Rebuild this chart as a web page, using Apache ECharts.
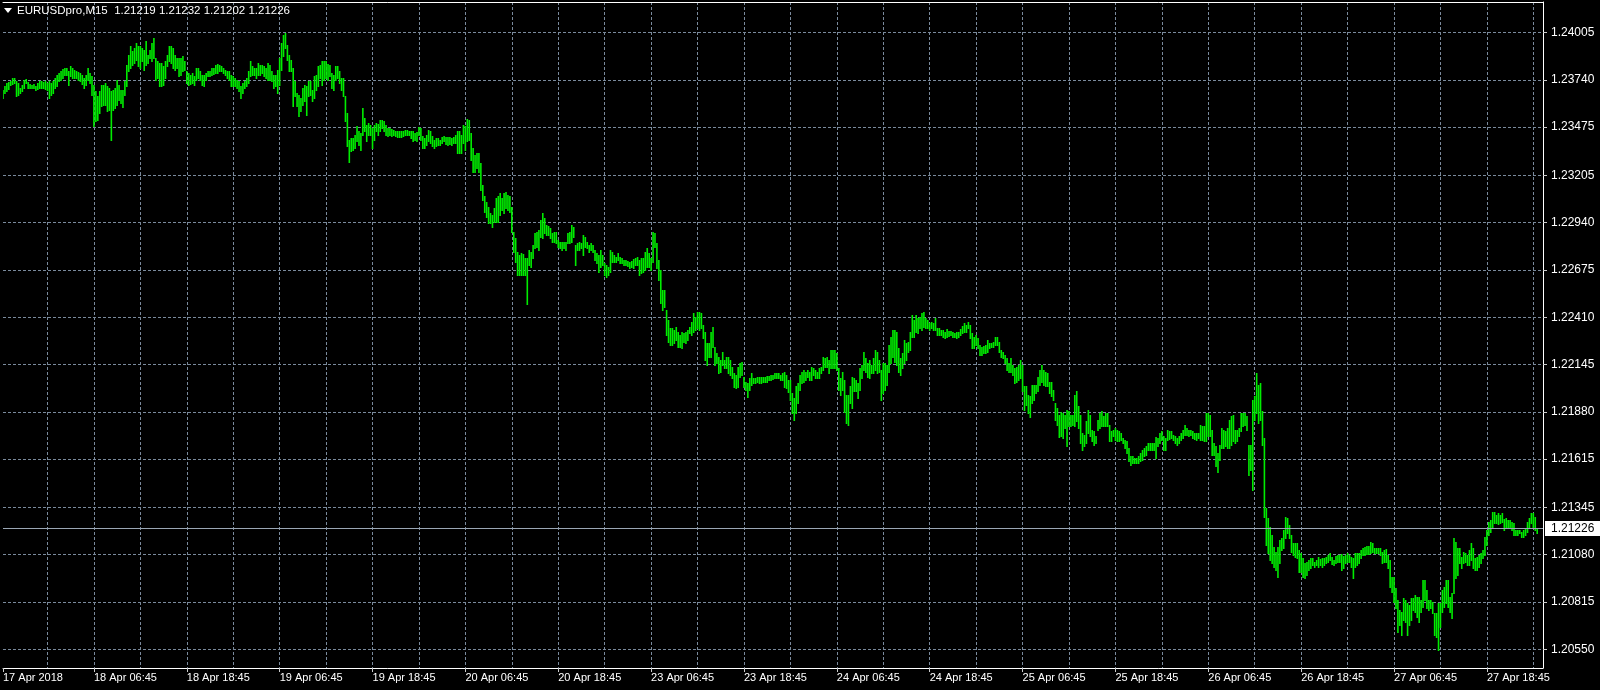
<!DOCTYPE html>
<html><head><meta charset="utf-8">
<script src="https://cdn.jsdelivr.net/npm/echarts@6/dist/echarts.min.js"></script>
<style>html,body{margin:0;padding:0;background:#000;}#c{width:1600px;height:690px;}</style>
</head><body><div id="c"></div>
<script>
const symbolName = 'EURUSDpro,M15';
const lastBar = {open: 1.21219, high: 1.21232, low: 1.21202, close: 1.21226};
const yTicks = [1.24005, 1.23740, 1.23475, 1.23205, 1.22940, 1.22675, 1.22410, 1.22145, 1.21880, 1.21615, 1.21345, 1.21080, 1.20815, 1.20550];
const xTickLabels = ['17 Apr 2018', '18 Apr 06:45', '18 Apr 18:45', '19 Apr 06:45', '19 Apr 18:45', '20 Apr 06:45', '20 Apr 18:45', '23 Apr 06:45', '23 Apr 18:45', '24 Apr 06:45', '24 Apr 18:45', '25 Apr 06:45', '25 Apr 18:45', '26 Apr 06:45', '26 Apr 18:45', '27 Apr 06:45', '27 Apr 18:45'];
const firstBarTime = '2018-04-17T19:00:00Z';
const emptySlots = 3;

const barHigh = [
1.23684,1.23706,1.23721,1.23727,1.23734,1.23753,1.23753,1.23731,1.23721,1.23697,
1.23712,1.23740,1.23744,1.23727,1.23716,1.23712,1.23716,1.23708,1.23721,1.23734,
1.23731,1.23727,1.23731,1.23721,1.23734,1.23721,1.23731,1.23749,1.23768,1.23777,
1.23787,1.23802,1.23805,1.23805,1.23787,1.23815,1.23809,1.23796,1.23787,1.23783,
1.23777,1.23768,1.23753,1.23768,1.23805,1.23777,1.23759,1.23712,1.23675,1.23647,
1.23675,1.23712,1.23712,1.23721,1.23703,1.23693,1.23675,1.23684,1.23693,1.23740,
1.23712,1.23684,1.23684,1.23731,1.23824,1.23880,1.23927,1.23899,1.23917,1.23945,
1.23927,1.23927,1.23917,1.23908,1.23955,1.23880,1.23908,1.23945,1.23973,1.23861,
1.23843,1.23833,1.23833,1.23815,1.23843,1.23880,1.23927,1.23927,1.23917,1.23880,
1.23861,1.23861,1.23861,1.23871,1.23843,1.23787,1.23777,1.23768,1.23777,1.23759,
1.23805,1.23805,1.23787,1.23768,1.23768,1.23777,1.23790,1.23787,1.23805,1.23809,
1.23824,1.23828,1.23824,1.23815,1.23809,1.23796,1.23787,1.23787,1.23768,1.23759,
1.23749,1.23740,1.23731,1.23703,1.23721,1.23734,1.23749,1.23787,1.23843,1.23815,
1.23805,1.23805,1.23833,1.23824,1.23824,1.23815,1.23805,1.23833,1.23824,1.23787,
1.23768,1.23768,1.23796,1.23861,1.23945,1.23992,1.24001,1.23936,1.23880,1.23852,
1.23805,1.23731,1.23665,1.23656,1.23637,1.23693,1.23712,1.23703,1.23731,1.23731,
1.23684,1.23759,1.23768,1.23815,1.23824,1.23846,1.23846,1.23843,1.23828,1.23824,
1.23777,1.23768,1.23815,1.23815,1.23787,1.23749,1.23749,1.23647,1.23553,1.23404,
1.23413,1.23413,1.23432,1.23479,1.23451,1.23441,1.23581,1.23525,1.23488,1.23497,
1.23488,1.23469,1.23488,1.23497,1.23492,1.23516,1.23516,1.23507,1.23488,1.23469,
1.23469,1.23465,1.23460,1.23454,1.23454,1.23451,1.23451,1.23451,1.23460,1.23460,
1.23451,1.23454,1.23451,1.23441,1.23447,1.23477,1.23469,1.23423,1.23413,1.23432,
1.23460,1.23454,1.23423,1.23404,1.23413,1.23413,1.23404,1.23417,1.23423,1.23417,
1.23417,1.23417,1.23413,1.23417,1.23432,1.23451,1.23451,1.23432,1.23488,1.23479,
1.23521,1.23516,1.23441,1.23357,1.23320,1.23329,1.23329,1.23273,1.23152,1.23087,
1.23058,1.23030,1.22993,1.22984,1.23021,1.23077,1.23087,1.23105,1.23077,1.23105,
1.23114,1.23096,1.23087,1.23030,1.22890,1.22853,1.22778,1.22760,1.22769,1.22763,
1.22741,1.22741,1.22788,1.22778,1.22815,1.22880,1.22890,1.22899,1.22955,1.22992,
1.22964,1.22927,1.22921,1.22908,1.22880,1.22890,1.22890,1.22843,1.22834,1.22834,
1.22834,1.22834,1.22880,1.22890,1.22927,1.22918,1.22815,1.22824,1.22834,1.22824,
1.22871,1.22862,1.22834,1.22815,1.22824,1.22815,1.22787,1.22768,1.22759,1.22787,
1.22759,1.22712,1.22703,1.22694,1.22787,1.22778,1.22759,1.22750,1.22768,1.22750,
1.22740,1.22731,1.22731,1.22727,1.22722,1.22725,1.22735,1.22740,1.22746,1.22731,
1.22740,1.22740,1.22778,1.22796,1.22768,1.22740,1.22890,1.22880,1.22824,1.22731,
1.22675,1.22563,1.22563,1.22451,1.22395,1.22348,1.22348,1.22339,1.22358,1.22329,
1.22311,1.22329,1.22320,1.22329,1.22339,1.22358,1.22385,1.22432,1.22413,1.22442,
1.22442,1.22432,1.22367,1.22329,1.22264,1.22264,1.22329,1.22358,1.22245,1.22208,
1.22189,1.22171,1.22217,1.22171,1.22189,1.22189,1.22171,1.22133,1.22096,1.22087,
1.22133,1.22152,1.22161,1.22077,1.22049,1.22040,1.22068,1.22096,1.22068,1.22068,
1.22077,1.22077,1.22077,1.22077,1.22077,1.22081,1.22081,1.22087,1.22087,1.22100,
1.22096,1.22096,1.22087,1.22096,1.22105,1.22087,1.22059,1.22059,1.21984,1.21956,
1.22022,1.22040,1.22087,1.22106,1.22115,1.22106,1.22115,1.22106,1.22134,1.22124,
1.22115,1.22106,1.22124,1.22134,1.22190,1.22180,1.22190,1.22171,1.22227,1.22227,
1.22227,1.22208,1.22124,1.22068,1.22106,1.22059,1.21975,1.21975,1.22022,1.22078,
1.22068,1.22059,1.22040,1.22124,1.22143,1.22218,1.22180,1.22152,1.22171,1.22143,
1.22180,1.22227,1.22218,1.22171,1.22115,1.22152,1.22152,1.22143,1.22255,1.22302,
1.22339,1.22339,1.22330,1.22236,1.22180,1.22208,1.22283,1.22264,1.22274,1.22330,
1.22423,1.22395,1.22423,1.22404,1.22414,1.22432,1.22442,1.22404,1.22395,1.22376,
1.22386,1.22376,1.22404,1.22348,1.22348,1.22339,1.22339,1.22330,1.22343,1.22335,
1.22335,1.22330,1.22324,1.22330,1.22330,1.22343,1.22361,1.22376,1.22367,1.22386,
1.22367,1.22320,1.22302,1.22311,1.22292,1.22255,1.22246,1.22249,1.22255,1.22283,
1.22264,1.22264,1.22274,1.22302,1.22302,1.22274,1.22227,1.22218,1.22199,1.22180,
1.22152,1.22180,1.22143,1.22124,1.22134,1.22143,1.22171,1.22143,1.22022,1.22022,
1.21975,1.21966,1.22031,1.22031,1.22031,1.22078,1.22115,1.22143,1.22115,1.22106,
1.22096,1.22050,1.22050,1.22003,1.21928,1.21900,1.21863,1.21880,1.21872,1.21863,
1.21891,1.21882,1.21863,1.21863,1.21975,1.21994,1.21910,1.21863,1.21760,1.21751,
1.21826,1.21891,1.21863,1.21779,1.21770,1.21742,1.21835,1.21872,1.21882,1.21854,
1.21872,1.21872,1.21807,1.21770,1.21779,1.21788,1.21779,1.21770,1.21760,1.21732,
1.21723,1.21714,1.21676,1.21630,1.21630,1.21620,1.21620,1.21633,1.21648,1.21667,
1.21676,1.21689,1.21704,1.21704,1.21704,1.21704,1.21738,1.21732,1.21760,1.21770,
1.21745,1.21732,1.21779,1.21770,1.21770,1.21751,1.21742,1.21732,1.21742,1.21760,
1.21779,1.21807,1.21788,1.21779,1.21779,1.21770,1.21760,1.21760,1.21760,1.21807,
1.21801,1.21798,1.21876,1.21876,1.21863,1.21779,1.21704,1.21686,1.21648,1.21695,
1.21788,1.21779,1.21770,1.21788,1.21835,1.21854,1.21863,1.21779,1.21779,1.21788,
1.21872,1.21872,1.21872,1.21854,1.21695,1.21695,1.21947,1.21966,1.22096,1.22031,
1.22040,1.21882,1.21732,1.21340,1.21284,1.21237,1.21191,1.21125,1.21097,1.21125,
1.21163,1.21172,1.21219,1.21293,1.21284,1.21247,1.21191,1.21144,1.21144,1.21144,
1.21107,1.21088,1.21060,1.21032,1.21041,1.21051,1.21060,1.21060,1.21041,1.21051,
1.21069,1.21054,1.21059,1.21059,1.21065,1.21078,1.21087,1.21069,1.21050,1.21072,
1.21078,1.21078,1.21083,1.21072,1.21078,1.21087,1.21078,1.21069,1.21059,1.21087,
1.21087,1.21091,1.21106,1.21115,1.21125,1.21128,1.21128,1.21153,1.21147,1.21115,
1.21115,1.21115,1.21115,1.21097,1.21106,1.21110,1.21078,1.21050,1.20957,1.20957,
1.20891,1.20826,1.20770,1.20760,1.20835,1.20826,1.20807,1.20798,1.20835,1.20835,
1.20854,1.20844,1.20844,1.20826,1.20938,1.20938,1.20882,1.20826,1.20826,1.20816,
1.20751,1.20751,1.20807,1.20807,1.20882,1.20901,1.20938,1.20938,1.20844,1.20863,
1.21171,1.21153,1.21115,1.21115,1.21069,1.21097,1.21087,1.21078,1.21106,1.21143,
1.21115,1.21059,1.21069,1.21078,1.21091,1.21106,1.21181,1.21218,1.21265,1.21274,
1.21317,1.21317,1.21302,1.21311,1.21302,1.21311,1.21278,1.21283,1.21274,1.21274,
1.21265,1.21255,1.21218,1.21218,1.21218,1.21209,1.21218,1.21227,1.21265,1.21283,
1.21311,1.21311,1.21293,1.21232
];

const barLow = [
1.23637,1.23665,1.23678,1.23690,1.23712,1.23716,1.23721,1.23652,1.23656,1.23665,
1.23675,1.23693,1.23721,1.23697,1.23693,1.23693,1.23693,1.23684,1.23690,1.23697,
1.23693,1.23697,1.23690,1.23684,1.23637,1.23656,1.23665,1.23693,1.23703,1.23731,
1.23740,1.23749,1.23768,1.23768,1.23712,1.23759,1.23749,1.23749,1.23749,1.23740,
1.23731,1.23716,1.23693,1.23712,1.23740,1.23721,1.23656,1.23479,1.23507,1.23516,
1.23553,1.23591,1.23600,1.23600,1.23563,1.23572,1.23404,1.23572,1.23581,1.23600,
1.23628,1.23609,1.23585,1.23656,1.23703,1.23787,1.23805,1.23824,1.23833,1.23852,
1.23815,1.23805,1.23843,1.23796,1.23824,1.23833,1.23861,1.23843,1.23861,1.23740,
1.23749,1.23703,1.23703,1.23712,1.23749,1.23815,1.23843,1.23833,1.23805,1.23796,
1.23805,1.23759,1.23768,1.23787,1.23796,1.23721,1.23712,1.23716,1.23721,1.23712,
1.23740,1.23749,1.23740,1.23712,1.23708,1.23740,1.23759,1.23764,1.23768,1.23772,
1.23777,1.23777,1.23787,1.23787,1.23777,1.23768,1.23749,1.23740,1.23703,1.23703,
1.23703,1.23693,1.23675,1.23637,1.23665,1.23693,1.23703,1.23721,1.23759,1.23768,
1.23768,1.23749,1.23768,1.23768,1.23777,1.23759,1.23749,1.23740,1.23740,1.23731,
1.23693,1.23703,1.23665,1.23712,1.23796,1.23871,1.23917,1.23852,1.23787,1.23787,
1.23591,1.23647,1.23591,1.23535,1.23563,1.23600,1.23619,1.23544,1.23647,1.23656,
1.23619,1.23637,1.23684,1.23703,1.23749,1.23712,1.23740,1.23749,1.23740,1.23759,
1.23693,1.23684,1.23740,1.23749,1.23721,1.23684,1.23647,1.23507,1.23367,1.23282,
1.23339,1.23348,1.23357,1.23395,1.23376,1.23348,1.23432,1.23451,1.23395,1.23432,
1.23432,1.23357,1.23404,1.23451,1.23432,1.23451,1.23469,1.23451,1.23432,1.23423,
1.23432,1.23428,1.23432,1.23428,1.23417,1.23417,1.23417,1.23423,1.23432,1.23432,
1.23432,1.23413,1.23395,1.23404,1.23398,1.23432,1.23404,1.23357,1.23357,1.23376,
1.23395,1.23385,1.23367,1.23357,1.23367,1.23376,1.23376,1.23385,1.23395,1.23380,
1.23376,1.23380,1.23376,1.23385,1.23385,1.23329,1.23329,1.23329,1.23385,1.23348,
1.23395,1.23404,1.23292,1.23226,1.23226,1.23245,1.23226,1.23124,1.23068,1.23002,
1.22974,1.22937,1.22937,1.22918,1.22946,1.22946,1.22946,1.22984,1.23012,1.22993,
1.23021,1.23012,1.23002,1.22890,1.22778,1.22722,1.22648,1.22648,1.22648,1.22648,
1.22648,1.22483,1.22704,1.22694,1.22740,1.22796,1.22806,1.22787,1.22862,1.22852,
1.22880,1.22871,1.22871,1.22852,1.22834,1.22834,1.22824,1.22806,1.22796,1.22787,
1.22796,1.22787,1.22824,1.22824,1.22834,1.22862,1.22703,1.22787,1.22787,1.22796,
1.22759,1.22806,1.22796,1.22778,1.22787,1.22778,1.22731,1.22712,1.22666,1.22694,
1.22703,1.22647,1.22638,1.22647,1.22666,1.22722,1.22722,1.22722,1.22731,1.22712,
1.22712,1.22703,1.22703,1.22697,1.22684,1.22694,1.22684,1.22703,1.22703,1.22647,
1.22656,1.22666,1.22675,1.22694,1.22694,1.22675,1.22722,1.22806,1.22684,1.22619,
1.22488,1.22451,1.22470,1.22311,1.22273,1.22255,1.22255,1.22264,1.22283,1.22245,
1.22245,1.22236,1.22273,1.22264,1.22283,1.22320,1.22311,1.22329,1.22339,1.22348,
1.22339,1.22348,1.22292,1.22171,1.22143,1.22189,1.22189,1.22245,1.22143,1.22152,
1.22096,1.22105,1.22143,1.22124,1.22124,1.22096,1.22087,1.22068,1.22021,1.22012,
1.22021,1.22077,1.22087,1.22021,1.22003,1.21965,1.22003,1.22031,1.22040,1.22040,
1.22049,1.22044,1.22044,1.22049,1.22049,1.22049,1.22059,1.22059,1.22062,1.22068,
1.22068,1.22068,1.22059,1.22059,1.22021,1.22012,1.21993,1.21947,1.21872,1.21835,
1.21872,1.21928,1.22003,1.22040,1.22050,1.22059,1.22078,1.22059,1.22059,1.22087,
1.22068,1.22068,1.22068,1.22096,1.22115,1.22134,1.22134,1.22096,1.22124,1.22124,
1.22124,1.22115,1.22003,1.21975,1.22003,1.21881,1.21816,1.21807,1.21928,1.21900,
1.21994,1.21994,1.21956,1.22003,1.22068,1.22115,1.22106,1.22078,1.22068,1.22096,
1.22096,1.22115,1.22096,1.22106,1.21947,1.21984,1.22003,1.22031,1.22106,1.22152,
1.22190,1.22162,1.22143,1.22106,1.22087,1.22124,1.22152,1.22171,1.22218,1.22227,
1.22302,1.22302,1.22330,1.22320,1.22348,1.22339,1.22358,1.22348,1.22348,1.22339,
1.22348,1.22339,1.22339,1.22311,1.22311,1.22311,1.22302,1.22292,1.22302,1.22305,
1.22311,1.22302,1.22302,1.22292,1.22302,1.22311,1.22320,1.22330,1.22330,1.22348,
1.22292,1.22236,1.22236,1.22255,1.22236,1.22199,1.22199,1.22208,1.22208,1.22218,
1.22236,1.22246,1.22246,1.22255,1.22255,1.22218,1.22190,1.22180,1.22152,1.22115,
1.22106,1.22106,1.22087,1.22040,1.22050,1.22059,1.22068,1.21994,1.21891,1.21919,
1.21872,1.21853,1.21928,1.21947,1.21984,1.21994,1.22031,1.22050,1.22031,1.22022,
1.22022,1.21984,1.21966,1.21947,1.21835,1.21807,1.21741,1.21742,1.21732,1.21788,
1.21686,1.21798,1.21798,1.21807,1.21798,1.21826,1.21788,1.21704,1.21667,1.21686,
1.21704,1.21760,1.21742,1.21714,1.21695,1.21704,1.21779,1.21788,1.21798,1.21798,
1.21798,1.21798,1.21714,1.21714,1.21742,1.21723,1.21714,1.21714,1.21723,1.21704,
1.21676,1.21648,1.21602,1.21583,1.21592,1.21592,1.21592,1.21592,1.21602,1.21611,
1.21630,1.21639,1.21667,1.21667,1.21667,1.21667,1.21620,1.21686,1.21704,1.21723,
1.21667,1.21667,1.21723,1.21727,1.21732,1.21723,1.21704,1.21695,1.21704,1.21723,
1.21732,1.21751,1.21751,1.21742,1.21751,1.21732,1.21727,1.21723,1.21732,1.21723,
1.21723,1.21714,1.21714,1.21742,1.21742,1.21639,1.21639,1.21574,1.21545,1.21611,
1.21676,1.21676,1.21686,1.21676,1.21676,1.21695,1.21714,1.21704,1.21714,1.21742,
1.21770,1.21798,1.21807,1.21779,1.21527,1.21555,1.21443,1.21835,1.21872,1.21816,
1.21835,1.21695,1.21293,1.21135,1.21088,1.21051,1.21032,1.21013,1.20995,1.20957,
1.21032,1.21107,1.21116,1.21172,1.21200,1.21172,1.21097,1.21079,1.21069,1.21060,
1.20985,1.20985,1.20957,1.20948,1.20967,1.20995,1.21004,1.21023,1.21013,1.21023,
1.21013,1.21023,1.21013,1.21022,1.21031,1.21041,1.21050,1.21027,1.21022,1.21031,
1.21041,1.21041,1.20994,1.21003,1.21031,1.21041,1.21041,1.21013,1.20947,1.21013,
1.21022,1.21031,1.21059,1.21078,1.21078,1.21083,1.21083,1.21087,1.21097,1.21087,
1.21087,1.21087,1.21078,1.21031,1.21041,1.21041,1.21003,1.20901,1.20873,1.20817,
1.20779,1.20648,1.20686,1.20630,1.20714,1.20704,1.20630,1.20686,1.20714,1.20770,
1.20760,1.20732,1.20704,1.20760,1.20788,1.20826,1.20779,1.20770,1.20779,1.20751,
1.20630,1.20620,1.20546,1.20676,1.20760,1.20788,1.20807,1.20788,1.20760,1.20723,
1.20863,1.20947,1.20966,1.21031,1.21003,1.21031,1.21041,1.21022,1.21022,1.21050,
1.21003,1.20994,1.20994,1.21013,1.21031,1.21059,1.21078,1.21134,1.21190,1.21209,
1.21227,1.21255,1.21255,1.21252,1.21255,1.21265,1.21218,1.21237,1.21237,1.21237,
1.21218,1.21190,1.21190,1.21190,1.21199,1.21181,1.21181,1.21190,1.21209,1.21237,
1.21255,1.21237,1.21218,1.21202
];

const MONTHS = ['Jan','Feb','Mar','Apr','May','Jun','Jul','Aug','Sep','Oct','Nov','Dec'];
const p2 = n => String(n).padStart(2, '0');
const categories = [];
let t = Date.parse(firstBarTime);
for (let i = 0; i < barHigh.length + emptySlots; i++) {
  const d = new Date(t);
  categories.push(p2(d.getUTCDate()) + ' ' + MONTHS[d.getUTCMonth()] + ' ' + p2(d.getUTCHours()) + ':' + p2(d.getUTCMinutes()));
  t += 15 * 60000;
  const n = new Date(t);
  if (n.getUTCDay() === 6 && n.getUTCHours() * 60 + n.getUTCMinutes() >= 90) t += 2 * 24 * 3600000;
}
const labelInterval = (idx, val) => idx === 0 || xTickLabels.indexOf(val) >= 0;
const gridInterval = (idx, val) => /(00|06|12|18):45$/.test(val);

const FONT = '"Liberation Sans", Arial, sans-serif';
const GREEN = '#00ec00';
const GRID = '#7a8a9c';
const bars = barHigh.map((h, i) => [i, h, barLow[i]]);

const chart = echarts.init(document.getElementById('c'), null, {renderer: 'canvas'});
chart.setOption({
  backgroundColor: '#000',
  animation: false,
  title: {
    text: symbolName + '  ' + [lastBar.open, lastBar.high, lastBar.low, lastBar.close].map(v => v.toFixed(5)).join(' '),
    left: 17, top: 5, padding: 0,
    textStyle: {color: '#fff', fontSize: 11.5, fontWeight: 'normal', fontFamily: FONT}
  },
  graphic: [{type: 'polygon', shape: {points: [[4, 8], [12, 8], [8, 13]]}, style: {fill: '#fff'}, z: 100}],
  grid: {left: 1, right: 57, top: 2, bottom: 22},
  xAxis: [{
    type: 'category', data: categories, boundaryGap: false,
    axisLine: {lineStyle: {color: '#fff', width: 1}},
    axisTick: {show: true, interval: labelInterval, length: 4, lineStyle: {color: '#ccc'}},
    axisLabel: {interval: labelInterval, formatter: (v, idx) => idx === 0 ? xTickLabels[0] : v,
      align: 'left', color: '#fff', fontSize: 11, margin: 4, fontFamily: FONT},
    splitLine: {show: true, interval: gridInterval, lineStyle: {color: GRID, type: [3, 2], width: 1}}
  }, {
    type: 'category', data: categories, boundaryGap: false, position: 'top',
    axisLine: {lineStyle: {color: '#fff', width: 1}}, axisTick: {show: false}, axisLabel: {show: false}, splitLine: {show: false}
  }],
  yAxis: {
    type: 'value', position: 'right', min: 1.20445, max: 1.24176, scale: true,
    axisLine: {show: true, lineStyle: {color: '#fff', width: 1}},
    axisTick: {show: true, length: 4, customValues: yTicks, lineStyle: {color: '#ccc'}},
    axisLabel: {customValues: yTicks, formatter: v => v.toFixed(5), color: '#fff', fontSize: 12, margin: 8, fontFamily: FONT},
    splitLine: {show: true, lineStyle: {color: GRID, type: [3, 2], width: 1}}
  },
  series: [{
    type: 'custom', xAxisIndex: 0, yAxisIndex: 0, data: bars, clip: true, z: 3,
    encode: {x: 0, y: [1, 2]},
    renderItem: function (params, api) {
      const top = api.coord([api.value(0), api.value(1)]);
      const bot = api.coord([api.value(0), api.value(2)]);
      return {type: 'line', shape: {x1: top[0], y1: Math.round(top[1]), x2: top[0], y2: Math.round(bot[1]) + 1},
        style: {stroke: GREEN, lineWidth: 1.6}};
    }
  }, {
    type: 'line', xAxisIndex: 0, yAxisIndex: 0, data: [], z: 2,
    markLine: {
      silent: true, symbol: ['none', 'none'], animation: false, precision: 5,
      data: [{yAxis: lastBar.close}],
      lineStyle: {color: '#9aa6b4', width: 1, type: 'solid'},
      label: {show: true, position: 'end', formatter: () => lastBar.close.toFixed(5), color: '#000',
        backgroundColor: '#fff', padding: [2, 9, 1, 6], fontSize: 12, distance: 2, fontFamily: FONT}
    }
  }]
});
</script>
</body></html>
